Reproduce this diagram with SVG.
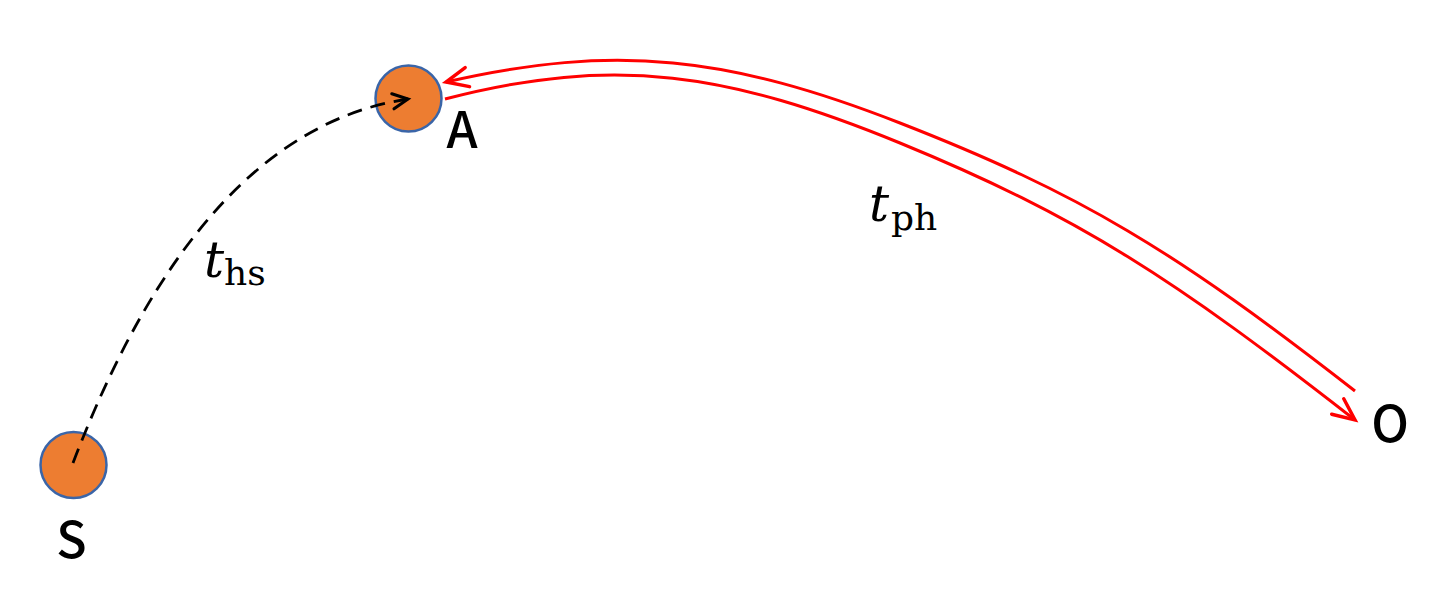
<svg xmlns="http://www.w3.org/2000/svg" width="1438" height="603" viewBox="0 0 1438 603">
<style>
.node{fill:#ED7D31;stroke:#3A65A8;stroke-width:2.5}
.lbl{font-family:"Noto Sans CJK SC","Liberation Sans",sans-serif;font-weight:500;font-size:50px;fill:#000;text-anchor:middle}
.math{font-family:"DejaVu Serif",serif;fill:#000}
.red{fill:none;stroke:#FF0000;stroke-width:3}
.dash{fill:none;stroke:#000;stroke-width:2.8;stroke-dasharray:15 9}
</style>
<defs>
<marker id="arR" markerUnits="userSpaceOnUse" markerWidth="30" markerHeight="30" viewBox="-22 -12 26 24" refX="0" refY="0" orient="auto">
<path d="M-19 -8.5 L0 0 L-19 8.5" fill="none" stroke="#FF0000" stroke-width="3" stroke-linecap="round"/>
</marker>
<marker id="arK" markerUnits="userSpaceOnUse" markerWidth="24" markerHeight="24" viewBox="-18 -10 22 20" refX="0" refY="0" orient="auto">
<path d="M-14 -7 L0 0 L-14 7" fill="none" stroke="#000" stroke-width="2.8" stroke-linecap="round"/>
</marker>
</defs>
<rect width="1438" height="603" fill="#fff"/>
<g id="node-S"><circle class="node" cx="73.5" cy="465" r="33"/><text class="lbl" x="71.5" y="558">S</text></g>
<g id="node-A"><circle class="node" cx="408.5" cy="98.5" r="33"/><text class="lbl" x="462" y="148">A</text></g>
<g id="node-O"><text class="lbl" x="1390" y="442">O</text></g>
<g id="connectors">
<path class="dash" d="M73 463 Q200 130 408 99" marker-end="url(#arK)"/>
<path class="red" d="M1355 391 C1175 250.6 1080 193.2 900 123 C730 56.7 616 43 446 82" marker-end="url(#arR)"/>
<path class="red" d="M445 99 C615 54.8 730 73.3 900 143 C1080 216.8 1175 279.6 1355 420" marker-end="url(#arR)"/>
</g>
<g id="labels">
<text class="math" x="204" y="277" font-size="50" font-style="italic">t</text>
<text class="math" x="224" y="285" font-size="36">hs</text>
<text class="math" x="869" y="221" font-size="50" font-style="italic">t</text>
<text class="math" x="891" y="230" font-size="36">ph</text>
</g>
</svg>
